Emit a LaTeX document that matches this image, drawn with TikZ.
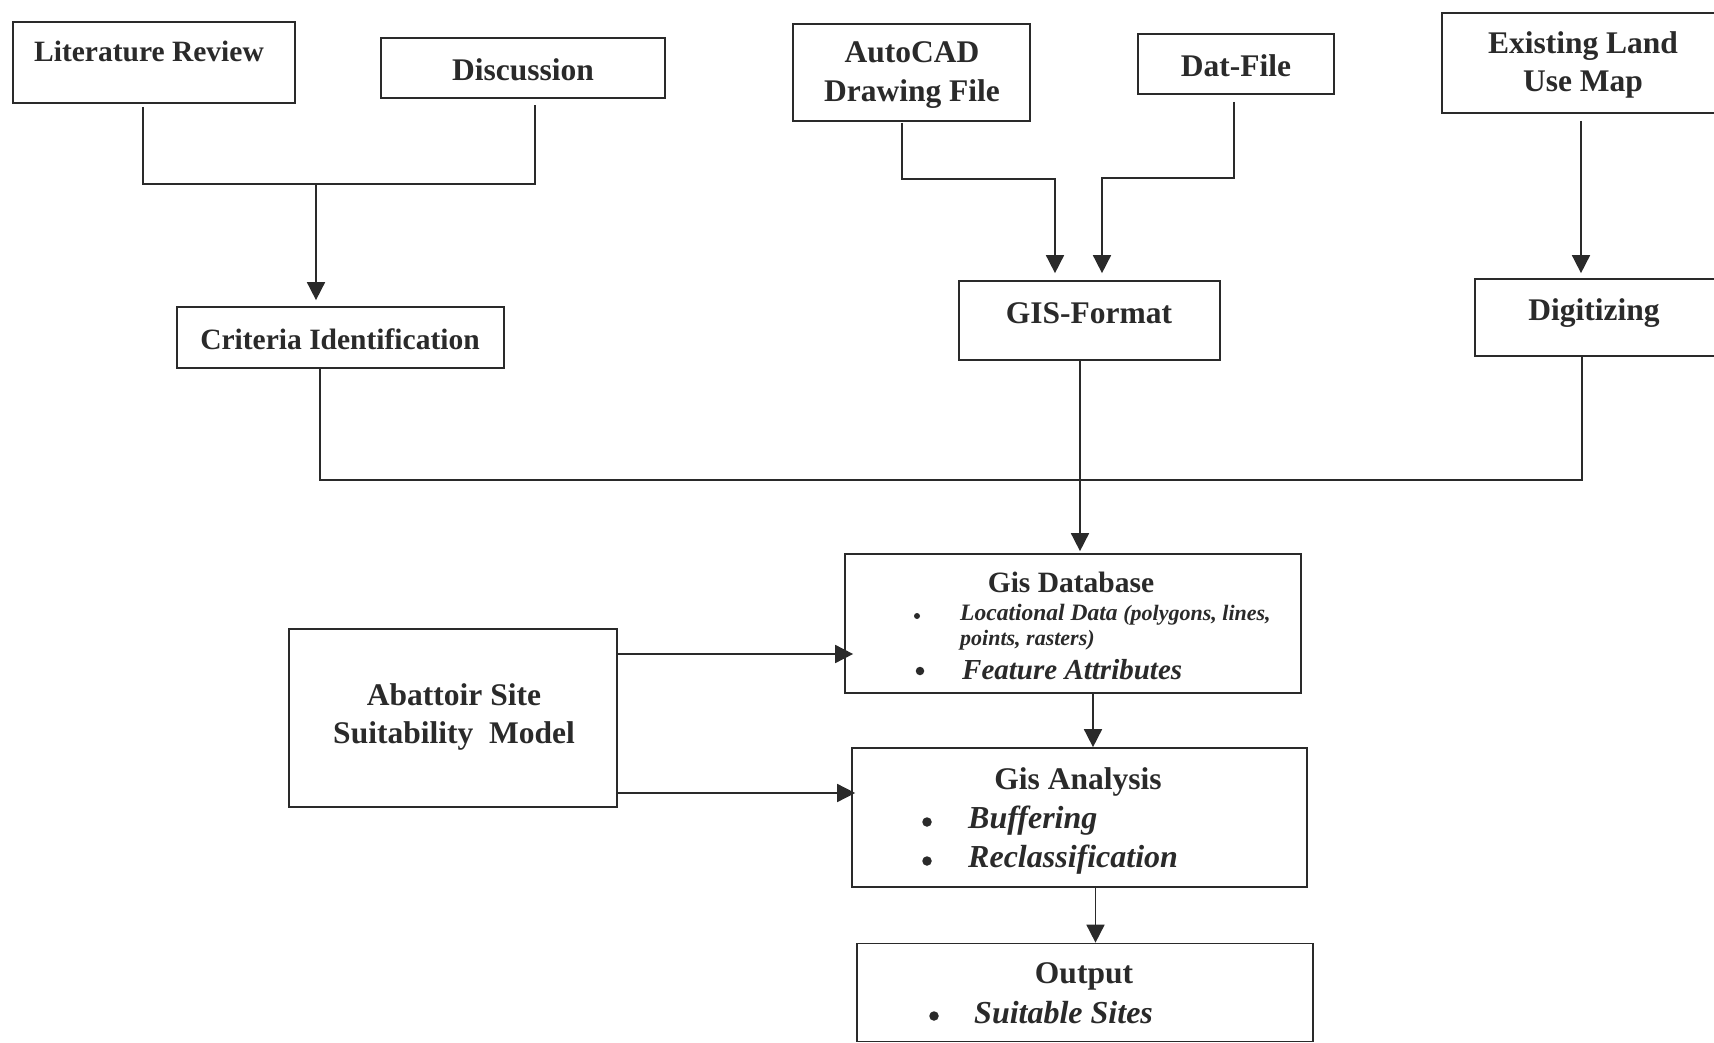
\documentclass[tikz,border=0pt]{standalone}
\usepackage{fontspec}
\setmainfont{Liberation Serif}
\usetikzlibrary{arrows.meta}
\definecolor{ink}{HTML}{2A2A2A}
\begin{document}
\begin{tikzpicture}[x=1pt,y=-1pt,
  box/.style={draw=ink, line width=1.7pt, rectangle, inner sep=0pt},
  lbl/.style={font=\bfseries\fontsize{31.5}{39}\selectfont, text=ink, align=center, inner sep=0pt},
  itm/.style={font=\bfseries\itshape\fontsize{32}{38}\selectfont, text=ink, anchor=west, inner sep=0pt},
  bul/.style={circle, fill=ink, inner sep=0pt, minimum size=9.5pt},
  wire/.style={draw=ink, line width=1.7pt},
  arr/.style={wire, -{Triangle[length=18pt,width=18pt]}},
]
\fill[white] (0,0) rectangle (1714,1043);
\useasboundingbox (0,0) rectangle (1714,1043);

% boxes
\node[box, minimum width=282pt, minimum height=81pt] (lit)   at (154,62.5)   {};
\node[box, minimum width=284pt, minimum height=60pt] (disc)  at (523,68)     {};
\node[box, minimum width=237pt, minimum height=97pt] (acad)  at (911.5,72.5) {};
\node[box, minimum width=196pt, minimum height=60pt] (dat)   at (1236,64)    {};
\node[box, minimum width=280pt, minimum height=100pt] (exist) at (1582,63)   {};
\node[box, minimum width=327pt, minimum height=61pt] (crit)  at (340.5,337.5) {};
\node[box, minimum width=261pt, minimum height=79pt] (gisf)  at (1089.5,320.5) {};
\node[box, minimum width=245pt, minimum height=77pt] (digit) at (1597.5,317.5) {};
\node[box, minimum width=456pt, minimum height=139pt] (gdb)  at (1073,623.5) {};
\node[box, minimum width=328pt, minimum height=178pt] (aba)  at (453,718)    {};
\node[box, minimum width=455pt, minimum height=139pt] (gan)  at (1079.5,817.5) {};
\node[box, minimum width=456pt, minimum height=98pt] (out)   at (1085,992.5) {};

% box labels
\node[lbl, font=\bfseries\fontsize{29.5}{37}\selectfont] (tlit) at (149,51) {Literature Review};
\node[lbl] (tdisc)  at (523,70)   {Discussion};
\node[lbl] (tacad)  at (912,75)   {AutoCAD\\Drawing File};
\node[lbl] (tdat)   at (1236,66)  {Dat-File};
\node[lbl, font=\bfseries\fontsize{31.5}{38}\selectfont] (texist) at (1583,65) {Existing Land\\Use Map};
\node[lbl, font=\bfseries\fontsize{29.5}{37}\selectfont] (tcrit) at (340,339) {Criteria Identification};
\node[lbl] (tgisf)  at (1089,313) {GIS-Format};
\node[lbl] (tdigit) at (1594,313) {Digitizing};
\node[lbl, font=\bfseries\fontsize{31.5}{38}\selectfont] (taba) at (454,717) {Abattoir Site\\Suitability\ \ Model};

% database contents
\node[lbl, font=\bfseries\fontsize{29.5}{37}\selectfont] (tgdb) at (1071,582) {Gis Database};
\node[bul, minimum size=6pt] (b1) at (917,616) {};
\node[itm] (i1) at (960,615) {\fontsize{23.5}{28}\selectfont Locational Data \fontsize{22}{28}\selectfont(polygons, lines,};
\node[itm, font=\bfseries\itshape\fontsize{22}{28}\selectfont] (i2) at (960,640) {points, rasters)};
\node[bul, minimum size=8.5pt] (b2) at (920,671) {};
\node[itm, font=\bfseries\itshape\fontsize{29}{36}\selectfont] (i3) at (962,670) {Feature Attributes};

% analysis contents
\node[lbl] (tgan) at (1078,782) {Gis Analysis};
\node[bul] (b3) at (927,822) {};
\node[itm] (i4) at (968,821) {Buffering};
\node[bul] (b4) at (927,861) {};
\node[itm] (i5) at (968,860) {Reclassification};

% output contents
\node[lbl] (tout) at (1084,976) {Output};
\node[bul] (b5) at (934,1016) {};
\node[itm] (i6) at (974,1013) {Suitable Sites};

% junction points
\coordinate (j1) at (316,184);
\coordinate (j2) at (1055,179);
\coordinate (j3) at (1102,178);
\coordinate (j4) at (1582,480);
\coordinate (ls) at ([xshift=-11pt,yshift=-3pt]lit.south);
\coordinate (ds) at ([xshift=12pt,yshift=-6pt]disc.south);
\coordinate (as) at ([xshift=-9.5pt,yshift=-1pt]acad.south);
\coordinate (dts) at ([xshift=-2pt,yshift=-7pt]dat.south);
\coordinate (es) at ([xshift=-1pt,yshift=-7pt]exist.south);
\coordinate (cs) at ([xshift=-20.5pt]crit.south);
\coordinate (gfs) at ([xshift=-9.5pt]gisf.south);
\coordinate (ab1) at ([yshift=64pt]aba.east);
\coordinate (ab2) at ([yshift=-75pt]aba.east);
\coordinate (dbs) at ([xshift=20pt]gdb.south);
\coordinate (ans) at ([xshift=16pt]gan.south);

% connectors
\draw[wire] (ls) |- (j1) -| (ds);
\draw[arr, shorten >=6pt] (j1) -- (j1 |- crit.north);
\draw[arr, shorten >=7pt] (as) |- (j2) -- (j2 |- gisf.north);
\draw[arr, shorten >=7pt] (dts) |- (j3) -- (j3 |- gisf.north);
\draw[arr, shorten >=5pt] (es) -- (es |- digit.north);
\draw[wire] (cs) |- (j4) -- (j4 |- digit.south);
\draw[arr, shorten >=2pt] (gfs) -- (gfs |- gdb.north);
\draw[arr, shorten >=-9pt] (ab1) -- (ab1 -| gdb.west);
\draw[arr, shorten >=-4pt] (ab2) -- (ab2 -| gan.west);
\draw[arr] (dbs) -- (dbs |- gan.north);
\draw[arr] (ans) -- (ans |- out.north);
\end{tikzpicture}
\end{document}
